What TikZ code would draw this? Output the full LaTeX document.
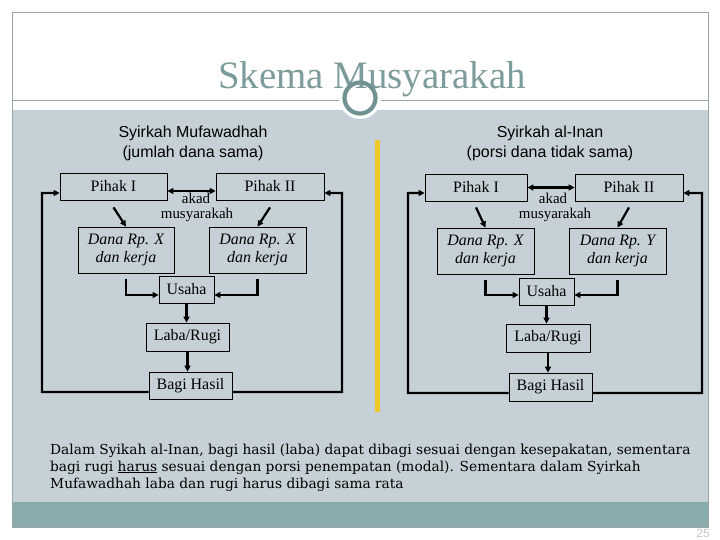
\documentclass[tikz,border=0pt]{standalone}
\usepackage{fontspec}
\setmainfont{Liberation Serif}
\setsansfont{Liberation Sans}
\newfontfamily\notefont{DejaVu Serif}
\usetikzlibrary{arrows.meta}
\definecolor{bandgrey}{RGB}{198,209,215}
\definecolor{tealband}{RGB}{138,171,171}
\definecolor{titlec}{RGB}{125,155,155}
\definecolor{framec}{RGB}{150,165,165}
\definecolor{ringc}{RGB}{112,146,146}
\definecolor{yel}{RGB}{240,200,40}
\begin{document}
\begin{tikzpicture}[x=1bp,y=-1bp,
  box/.style={draw=black,line width=0.8bp,fill=bandgrey,inner sep=0pt,align=center,font=\fontsize{16}{18}\selectfont},
  arr/.style={line width=2.2bp,-{Triangle[length=6bp,width=6bp]}},
  darr/.style={line width=2.2bp,{Triangle[length=6bp,width=6bp]}-{Triangle[length=6bp,width=6bp]}},
  lbl/.style={inner sep=0pt,font=\fontsize{15}{17}\selectfont},
  sect/.style={align=center,font=\sffamily\fontsize{16}{20}\selectfont},
  note/.style={anchor=base west,inner sep=0pt,font=\notefont\fontsize{13.8}{17}\selectfont}]
\useasboundingbox (0,0) rectangle (720,540);
\fill[white] (0,0) rectangle (720,540);
% slide background
\fill[bandgrey] (12,110) rectangle (708,502);
\fill[tealband] (12,502) rectangle (708,527);
\draw[framec,line width=0.8bp] (12,12) rectangle (708,527);
\draw[framec,line width=0.8bp] (12,100) -- (708,100);
\fill[white] (360,98) circle (21);
\node[text=titlec,font=\fontsize{39}{39}\selectfont,anchor=base,inner sep=0pt] (title) at (372,89) {Skema Musyarakah};
\draw[ringc,line width=4.2bp] (360,98) circle (15.5);
\node[text=gray!45,font=\sffamily\fontsize{12}{12}\selectfont,anchor=base,inner sep=0pt] (pg) at (703,537) {25};
% divider
\draw[yel,line width=5bp] (377,140) -- (377,412);
% section titles
\node[sect] (tL) at (193,143) {Syirkah Mufawadhah\\(jumlah dana sama)};
\node[sect] (tR) at (550,143) {Syirkah al-Inan\\(porsi dana tidak sama)};
% left diagram
\node[box,minimum width=107bp,minimum height=27bp] (p1L) at (113.5,186.5) {Pihak I};
\node[box,minimum width=108bp,minimum height=27bp] (p2L) at (270,186.5) {Pihak II};
\node[box,minimum width=96bp,minimum height=46bp] (dL1) at (126,250) {\itshape Dana Rp. X\\\itshape dan kerja};
\node[box,minimum width=97bp,minimum height=46bp] (dL2) at (257.5,250) {\itshape Dana Rp. X\\\itshape dan kerja};
\node[box,minimum width=55bp,minimum height=27bp] (uL) at (186.5,289.5) {Usaha};
\node[box,minimum width=83bp,minimum height=28bp] (lL) at (187.5,337) {Laba/Rugi};
\node[box,minimum width=83bp,minimum height=27bp] (bL) at (190.5,385.5) {Bagi Hasil};
\node[lbl] (akL) at (196,198) {akad};
\node[lbl] (muL) at (197,215) {musyarakah};
\draw[darr] ([yshift=-4.5bp]p1L.east) -- ([yshift=-4.5bp]p2L.west);
\draw[arr] ([yshift=-7bp]p1L.south) -- (dL1.north);
\draw[arr] ([yshift=-7bp]p2L.south) -- (dL2.north);
\draw[arr] ([yshift=-6bp]dL1.south) |- ([yshift=-5.5bp]uL.west);
\draw[arr] ([yshift=-6bp]dL2.south) |- ([yshift=-5.5bp]uL.east);
\draw[arr] (uL.south) -- (uL.south |- lL.north);
\draw[arr] (lL.south) -- (lL.south |- bL.north);
\coordinate (cL1) at (42,193);
\coordinate (cL2) at (342,193);
\draw[arr] ([yshift=-6.5bp]bL.west) -| (cL1) -- ([yshift=-6.5bp]p1L.west);
\draw[arr] ([yshift=-6.5bp]bL.east) -| (cL2) -- ([yshift=-6.5bp]p2L.east);
% right diagram
\node[box,minimum width=102bp,minimum height=27bp] (p1R) at (476,187.5) {Pihak I};
\node[box,minimum width=108bp,minimum height=27bp] (p2R) at (629,187.5) {Pihak II};
\node[box,minimum width=97bp,minimum height=46bp] (dR1) at (485.5,251) {\itshape Dana Rp. X\\\itshape dan kerja};
\node[box,minimum width=97bp,minimum height=46bp] (dR2) at (617.5,251) {\itshape Dana Rp. Y\\\itshape dan kerja};
\node[box,minimum width=55bp,minimum height=27bp] (uR) at (546.5,291.5) {Usaha};
\node[box,minimum width=84bp,minimum height=28bp] (lR) at (548,338) {Laba/Rugi};
\node[box,minimum width=83bp,minimum height=28bp] (bR) at (550.5,387) {Bagi Hasil};
\node[lbl] (akR) at (553,198) {akad};
\node[lbl] (muR) at (555,215) {musyarakah};
\draw[darr] (p1R.east) -- (p2R.west);
\draw[arr] ([yshift=-6bp]p1R.south) -- (dR1.north);
\draw[arr] ([yshift=-6bp]p2R.south) -- (dR2.north);
\draw[arr] ([yshift=-6bp]dR1.south) |- ([yshift=-3.5bp]uR.west);
\draw[arr] ([yshift=-6bp]dR2.south) |- ([yshift=-3.5bp]uR.east);
\draw[arr] (uR.south) -- (uR.south |- lR.north);
\draw[arr] (lR.south) -- (lR.south |- bR.north);
\coordinate (cR1) at (408,193);
\coordinate (cR2) at (702,193);
\draw[arr] ([yshift=-6bp]bR.west) -| (cR1) -- ([yshift=-5.5bp]p1R.west);
\draw[arr] ([yshift=-6bp]bR.east) -| (cR2) -- ([yshift=-5.5bp]p2R.east);
% note
\node[note] (n1) at (50,454) {Dalam Syikah al-Inan, bagi hasil (laba) dapat dibagi sesuai dengan kesepakatan, sementara};
\node[note] (n2) at (50,471) {bagi rugi \underline{harus} sesuai dengan porsi penempatan (modal). Sementara dalam Syirkah};
\node[note] (n3) at (50,488) {Mufawadhah laba dan rugi harus dibagi sama rata};
\end{tikzpicture}
\end{document}
